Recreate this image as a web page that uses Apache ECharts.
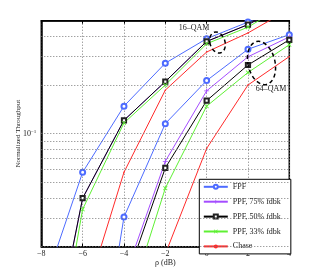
<!DOCTYPE html>
<html>
<head>
<meta charset="utf-8">
<script src="https://cdn.jsdelivr.net/npm/echarts@6/dist/echarts.min.js"></script>
<style>html,body{margin:0;padding:0;background:#fff}#c{width:319px;height:278px}</style>
</head>
<body>
<div id="c"></div>
<script>
// ---- data ----
const rho = [-8, -6, -4, -2, 0, 2, 4];
const xTicks = [-8, -6, -4, -2, 0, 2, 4];
const yGridValues = [0.02, 0.03, 0.04, 0.05, 0.06, 0.07, 0.08, 0.09, 0.1, 0.2, 0.3, 0.4];
const legendNames = ['FPF', 'PPF, 75% fdbk', 'PPF, 50% fdbk', 'PPF, 33% fdbk', 'Chase'];
// 16-QAM
const fpf16   = [0.0102, 0.0577, 0.148, 0.273, 0.387, 0.490, 0.620];
const ppf75_16 = [0.0021, 0.0399, 0.121, 0.210, 0.372, 0.473, 0.644];
const ppf50_16 = [0.0021, 0.0399, 0.121, 0.210, 0.372, 0.473, 0.644];
const ppf33_16 = [0.0012, 0.0341, 0.1165, 0.200, 0.360, 0.456, 0.650];
const chase16 = [null, 0.0086, 0.0577, 0.186, 0.320, 0.420, 0.589];
// 64-QAM
const fpf64   = [null, 0.0008, 0.0305, 0.1154, 0.213, 0.333, 0.410];
const ppf75_64 = [null, null, 0.0126, 0.0675, 0.184, 0.299, 0.397];
const ppf50_64 = [null, null, 0.0114, 0.0614, 0.160, 0.266, 0.381];
const ppf33_64 = [null, null, 0.0072, 0.0460, 0.148, 0.239, 0.355];
const chase64 = [null, null, null, 0.0180, 0.081, 0.200, 0.300];

const FONT = 'Liberation Serif';
const colors = ['#4d6bff', '#a44cff', '#000000', '#5ef033', '#ff2a2a'];
const plusPath = 'path://M-0.8,-5 L0.8,-5 L0.8,-0.8 L5,-0.8 L5,0.8 L0.8,0.8 L0.8,5 L-0.8,5 L-0.8,0.8 L-5,0.8 L-5,-0.8 L-0.8,-0.8 Z';
const crossPath = 'path://M-4.5,-3.3 L-3.3,-4.5 L0,-1.2 L3.3,-4.5 L4.5,-3.3 L1.2,0 L4.5,3.3 L3.3,4.5 L0,1.2 L-3.3,4.5 L-4.5,3.3 L-1.2,0 Z';

const styles = [
  {symbol: 'emptyCircle', symbolSize: 5, itemStyle: {color: colors[0], borderColor: colors[0], borderWidth: 1}},
  {symbol: plusPath, symbolSize: 5, itemStyle: {color: colors[1]}},
  {symbol: 'emptyRect', symbolSize: 4.2, itemStyle: {color: '#222', borderColor: '#222', borderWidth: 1.2}},
  {symbol: crossPath, symbolSize: 4.5, itemStyle: {color: colors[3]}},
  {symbol: 'circle', symbolSize: 1.5, itemStyle: {color: colors[4]}}
];

function mk(name, idx, vals) {
  const s = styles[idx];
  return {
    type: 'line', name: name,
    data: rho.map((x, i) => [x, vals[i]]),
    symbol: s.symbol, symbolSize: s.symbolSize,
    itemStyle: s.itemStyle,
    lineStyle: {color: colors[idx], width: 1},
    clip: true, animation: false, connectNulls: false,
    emphasis: {disabled: true}
  };
}

const series = [
  mk(legendNames[0], 0, fpf16), mk(legendNames[1], 1, ppf75_16), mk(legendNames[2], 2, ppf50_16),
  mk(legendNames[3], 3, ppf33_16), mk(legendNames[4], 4, chase16),
  mk(legendNames[0], 0, fpf64), mk(legendNames[1], 1, ppf75_64), mk(legendNames[2], 2, ppf50_64),
  mk(legendNames[3], 3, ppf33_64), mk(legendNames[4], 4, chase64)
];
series.unshift({
  type: 'line', name: 'grid', data: [], silent: true, animation: false, z: 1,
  markLine: {
    silent: true, symbol: ['none', 'none'], animation: false,
    label: {show: false},
    lineStyle: {color: '#7a7a7a', type: [1, 2], width: 1},
    data: yGridValues.map(v => ({yAxis: v}))
  }
});

const chart = echarts.init(document.getElementById('c'), null, {renderer: 'canvas'});
chart.setOption({
  backgroundColor: '#fff',
  animation: false,
  grid: {left: 41.3, right: 29.7, top: 20.7, bottom: 31.3, show: true, borderColor: '#000', borderWidth: 1.5, backgroundColor: 'transparent'},
  xAxis: [{
    type: 'value', min: -8, max: 4, interval: 2,
    name: 'ρ (dB)', nameLocation: 'middle', nameGap: 12, nameMoveOverlap: false,
    nameTextStyle: {fontFamily: FONT, fontSize: 8, color: '#222'},
    axisLine: {show: true, onZero: false, lineStyle: {color: '#000', width: 1.5}},
    axisTick: {show: true, inside: true, length: 3, lineStyle: {color: '#000'}},
    axisLabel: {fontFamily: FONT, fontSize: 8, color: '#222', margin: 3,
      formatter: v => (v < 0 ? '\u2212' + Math.abs(v) : String(v))},
    splitLine: {show: true, lineStyle: {color: '#7a7a7a', type: [1, 2], width: 1}}
  }, {
    type: 'value', min: -8, max: 4, interval: 2, position: 'top',
    axisLine: {show: true, onZero: false, lineStyle: {color: '#000', width: 1.5}},
    axisTick: {show: true, inside: true, length: 3, lineStyle: {color: '#000'}},
    axisLabel: {show: false}, splitLine: {show: false}
  }],
  yAxis: {
    type: 'log', logBase: 10, min: 0.02, max: 0.5,
    name: 'Normalized Throughput', nameLocation: 'middle', nameGap: 20, nameMoveOverlap: false,
    nameTextStyle: {fontFamily: FONT, fontSize: 7, color: '#222'},
    axisLine: {show: true, onZero: false, lineStyle: {color: '#000', width: 1.5}},
    axisTick: {show: false},
    splitLine: {show: false},
    axisLabel: {
      fontFamily: FONT, fontSize: 8, color: '#222', margin: 5,
      formatter: v => (Math.abs(Math.log10(v) + 1) < 1e-6 ? '10{s|\u22121}' : ''),
      rich: {s: {fontFamily: FONT, fontSize: 5, verticalAlign: 'top', padding: [0, 0, 5, 0]}}
    }
  },
  legend: {
    data: legendNames, orient: 'vertical', left: 199.3, top: 179.3,
    itemWidth: 24, itemHeight: 5, itemGap: 6.9, itemTextGap: 4,
    padding: [3.5, 10, 3.5, 3.5],
    backgroundColor: '#fff', borderColor: '#000', borderWidth: 1,
    textStyle: {fontFamily: FONT, fontSize: 8, color: '#222'},
    selectedMode: false
  },
  graphic: [
    {type: 'text', x: 194, y: 28, style: {text: '16\u2013QAM', font: '8px "Liberation Serif"', fill: '#222', align: 'center', verticalAlign: 'middle'}, z: 100},
    {type: 'text', x: 271, y: 89, style: {text: '64\u2013QAM', font: '8px "Liberation Serif"', fill: '#222', align: 'center', verticalAlign: 'middle'}, z: 100},
    {type: 'ellipse', x: 217.5, y: 42.5, rotation: 0.3, shape: {cx: 0, cy: 0, rx: 7.5, ry: 10.8},
      style: {fill: 'none', stroke: '#000', lineWidth: 1.5, lineDash: [4, 3]}, z: 100},
    {type: 'ellipse', x: 261.5, y: 63, rotation: 0.23, shape: {cx: 0, cy: 0, rx: 13.5, ry: 22},
      style: {fill: 'none', stroke: '#000', lineWidth: 1.5, lineDash: [4, 3]}, z: 100}
  ],
  series: series
});
</script>
</body>
</html>
